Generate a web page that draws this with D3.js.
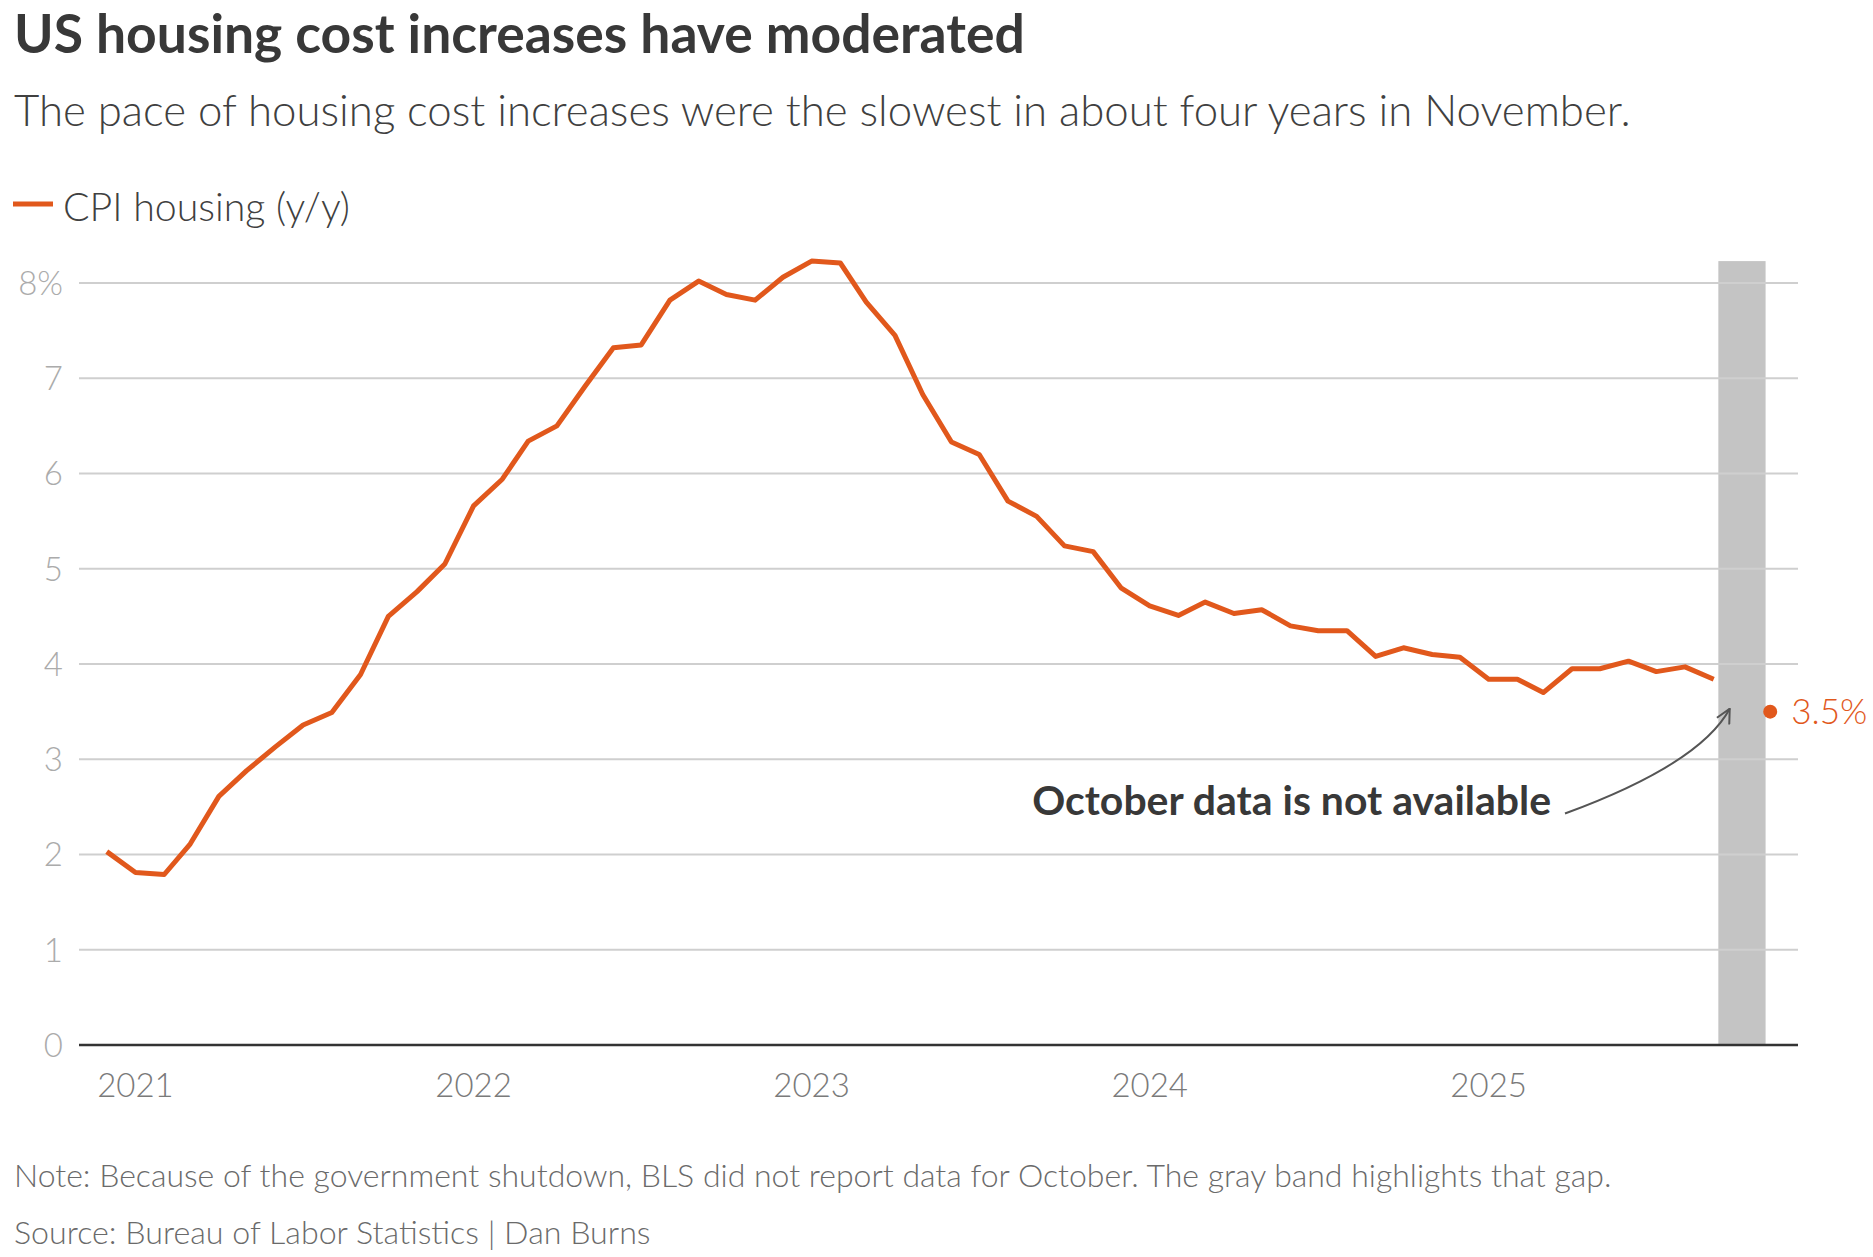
<!DOCTYPE html>
<html>
<head>
<meta charset="utf-8">
<script src="https://cdn.jsdelivr.net/npm/d3@7"></script>
<style>
    body { margin: 0; background: #fff; }
    text { font-family: Lato, "Noto Sans", sans-serif; }
</style>
</head>
<body>
<svg id="housing_graph"></svg>
<script>

// Months of the series (y/y change, CPI housing)
const months = [
    "2020-12",
    "2021-01", "2021-02", "2021-03", "2021-04", "2021-05", "2021-06",
    "2021-07", "2021-08", "2021-09", "2021-10", "2021-11", "2021-12",
    "2022-01", "2022-02", "2022-03", "2022-04", "2022-05", "2022-06",
    "2022-07", "2022-08", "2022-09", "2022-10", "2022-11", "2022-12",
    "2023-01", "2023-02", "2023-03", "2023-04", "2023-05", "2023-06",
    "2023-07", "2023-08", "2023-09", "2023-10", "2023-11", "2023-12",
    "2024-01", "2024-02", "2024-03", "2024-04", "2024-05", "2024-06",
    "2024-07", "2024-08", "2024-09", "2024-10", "2024-11", "2024-12",
    "2025-01", "2025-02", "2025-03", "2025-04", "2025-05", "2025-06",
    "2025-07", "2025-08", "2025-09"
]

const housing = [
    2.03,
    1.81, 1.79, 2.11, 2.61, 2.88, 3.13, 3.36, 3.49, 3.89, 4.50, 4.76, 5.05,
    5.66, 5.94, 6.34, 6.50, 6.91, 7.32, 7.35, 7.82, 8.02, 7.88, 7.82, 8.06,
    8.23, 8.21, 7.80, 7.45, 6.83, 6.33, 6.20, 5.71, 5.55, 5.24, 5.18, 4.80,
    4.61, 4.51, 4.65, 4.53, 4.57, 4.40, 4.35, 4.35, 4.08, 4.17, 4.10, 4.07,
    3.84, 3.84, 3.70, 3.95, 3.95, 4.03, 3.92, 3.97, 3.84
]

// latest reading, after the missing October
const latestMonth = "2025-11"
const latestValue = 3.5
const missingMonth = "2025-10"

const yTicks = [0, 1, 2, 3, 4, 5, 6, 7, 8]
const yTickLabels = ["0", "1", "2", "3", "4", "5", "6", "7", "8%"]
const xTicks = ["2021", "2022", "2023", "2024", "2025"]

const parseMonth = d3.timeParse("%Y-%m")
const orange = "#e1581c"

function fitText(sel, size, target) {
    sel.style("font-size", size + "px")
    var w = sel.node().getComputedTextLength()
    sel.style("font-size", (size * target / w) + "px")
    return sel
}

function createGraph() {

    var W = 1873, H = 1257
    var left = 79, right = 1798, top = 283, bottom = 1045

    var svg = d3.select("#housing_graph")
        .attr("width", W)
        .attr("height", H)

    var data = months.map(function(m, i) { return { date: parseMonth(m), value: housing[i] } })

    const xScale = d3.scaleTime()
        .domain([parseMonth("2020-11"), parseMonth("2025-12")])
        .range([left, right])

    const yScale = d3.scaleLinear()
        .domain([0, 8])
        .range([bottom, top])

    // gray band for the missing month
    var miss = parseMonth(missingMonth)
    svg.append("rect")
        .attr("x", xScale(d3.timeDay.offset(miss, -25)))
        .attr("width", xScale(d3.timeDay.offset(miss, 26)) - xScale(d3.timeDay.offset(miss, -25)))
        .attr("y", yScale(d3.max(housing)))
        .attr("height", yScale(0) - yScale(d3.max(housing)))
        .attr("fill", "#c4c4c4")

    // gridlines
    svg.append("g")
        .selectAll("line")
        .data(yTicks.slice(1))
        .join("line")
        .attr("x1", left)
        .attr("x2", right)
        .attr("y1", function(d) { return yScale(d) })
        .attr("y2", function(d) { return yScale(d) })
        .attr("stroke", "#cfcfcf")
        .attr("stroke-width", 2)

    // baseline
    svg.append("line")
        .attr("x1", left).attr("x2", right)
        .attr("y1", yScale(0)).attr("y2", yScale(0))
        .attr("stroke", "#333")
        .attr("stroke-width", 2.5)

    // Y labels
    svg.append("g")
        .selectAll("text")
        .data(yTicks)
        .join("text")
        .attr("x", 63)
        .attr("y", function(d) { return yScale(d) })
        .attr("dy", "0.36em")
        .attr("text-anchor", "end")
        .attr("fill", "#ababab")
        .style("font-weight", 300)
        .style("font-size", "33px")
        .text(function(d, i) { return yTickLabels[i] })

    // X labels
    svg.append("g")
        .selectAll("text")
        .data(xTicks)
        .join("text")
        .attr("x", function(d) { return xScale(parseMonth(d + "-01")) })
        .attr("y", 1097)
        .attr("text-anchor", "middle")
        .attr("fill", "#7a7a7a")
        .style("font-weight", 300)
        .style("font-size", "33px")
        .text(function(d) { return d })

    // the line
    svg.append("path")
        .datum(data)
        .attr("fill", "none")
        .attr("stroke", orange)
        .attr("stroke-width", 5)
        .attr("stroke-linejoin", "round")
        .attr("d", d3.line()
            .x(function(d) { return xScale(d.date) })
            .y(function(d) { return yScale(d.value) })
        )

    // latest point
    svg.append("circle")
        .attr("cx", xScale(parseMonth(latestMonth)))
        .attr("cy", yScale(latestValue))
        .attr("r", 7)
        .attr("fill", orange)

    svg.append("text")
        .attr("x", xScale(parseMonth(latestMonth)) + 21)
        .attr("y", yScale(latestValue))
        .attr("dy", "0.36em")
        .attr("fill", orange)
        .style("font-weight", 300)
        .style("font-size", "35px")
        .text(latestValue + "%")

    // annotation + arrow
    svg.append("defs").append("marker")
        .attr("id", "arrow")
        .attr("viewBox", "0 0 16 16")
        .attr("refX", 15)
        .attr("refY", 8)
        .attr("markerWidth", 16)
        .attr("markerHeight", 16)
        .attr("markerUnits", "userSpaceOnUse")
        .attr("orient", "auto")
        .append("path")
        .attr("d", "M1,1 L15,8 L1,15")
        .attr("fill", "none")
        .attr("stroke", "#555")
        .attr("stroke-width", 2)

    var ax0 = 1565, ay0 = yScale(2.43)
    var ax1 = xScale(parseMonth("2025-09")) + 16, ay1 = yScale(3.53)
    svg.append("path")
        .attr("d", "M" + ax0 + "," + ay0 + " Q" + 1700 + "," + yScale(2.95) + " " + ax1 + "," + ay1)
        .attr("fill", "none")
        .attr("stroke", "#555")
        .attr("stroke-width", 2)
        .attr("marker-end", "url(#arrow)")

    var ann = svg.append("text")
        .attr("x", 1551)
        .attr("y", 815)
        .attr("text-anchor", "end")
        .attr("fill", "#383838")
        .style("font-weight", 700)
        .text("October data is not available")
    fitText(ann, 38, 519)

    loadTitles(svg)
}

function loadTitles(svg) {

    var title = svg.append("text")
        .attr("x", 14)
        .attr("y", 53)
        .attr("fill", "#383838")
        .style("font-weight", 700)
        .text("US housing cost increases have moderated")
    fitText(title, 44, 1011)

    var sub = svg.append("text")
        .attr("x", 14)
        .attr("y", 126)
        .attr("fill", "#404040")
        .style("font-weight", 300)
        .text("The pace of housing cost increases were the slowest in about four years in November.")
    fitText(sub, 40, 1617)

    // legend
    svg.append("line")
        .attr("x1", 13).attr("x2", 53)
        .attr("y1", 204).attr("y2", 204)
        .attr("stroke", orange)
        .attr("stroke-width", 5)

    var leg = svg.append("text")
        .attr("x", 63)
        .attr("y", 221)
        .attr("fill", "#404040")
        .style("font-weight", 300)
        .text("CPI housing (y/y)")
    fitText(leg, 38, 287)

    var note = svg.append("text")
        .attr("x", 14)
        .attr("y", 1187)
        .attr("fill", "#6a6a6a")
        .style("font-weight", 300)
        .text("Note: Because of the government shutdown, BLS did not report data for October. The gray band highlights that gap.")
    fitText(note, 30, 1598)

    var source = svg.append("text")
        .attr("x", 14)
        .attr("y", 1244)
        .attr("fill", "#6a6a6a")
        .style("font-weight", 300)
        .text("Source: Bureau of Labor Statistics | Dan Burns")
    fitText(source, 30, 637)
}

createGraph()

</script>
</body>
</html>
